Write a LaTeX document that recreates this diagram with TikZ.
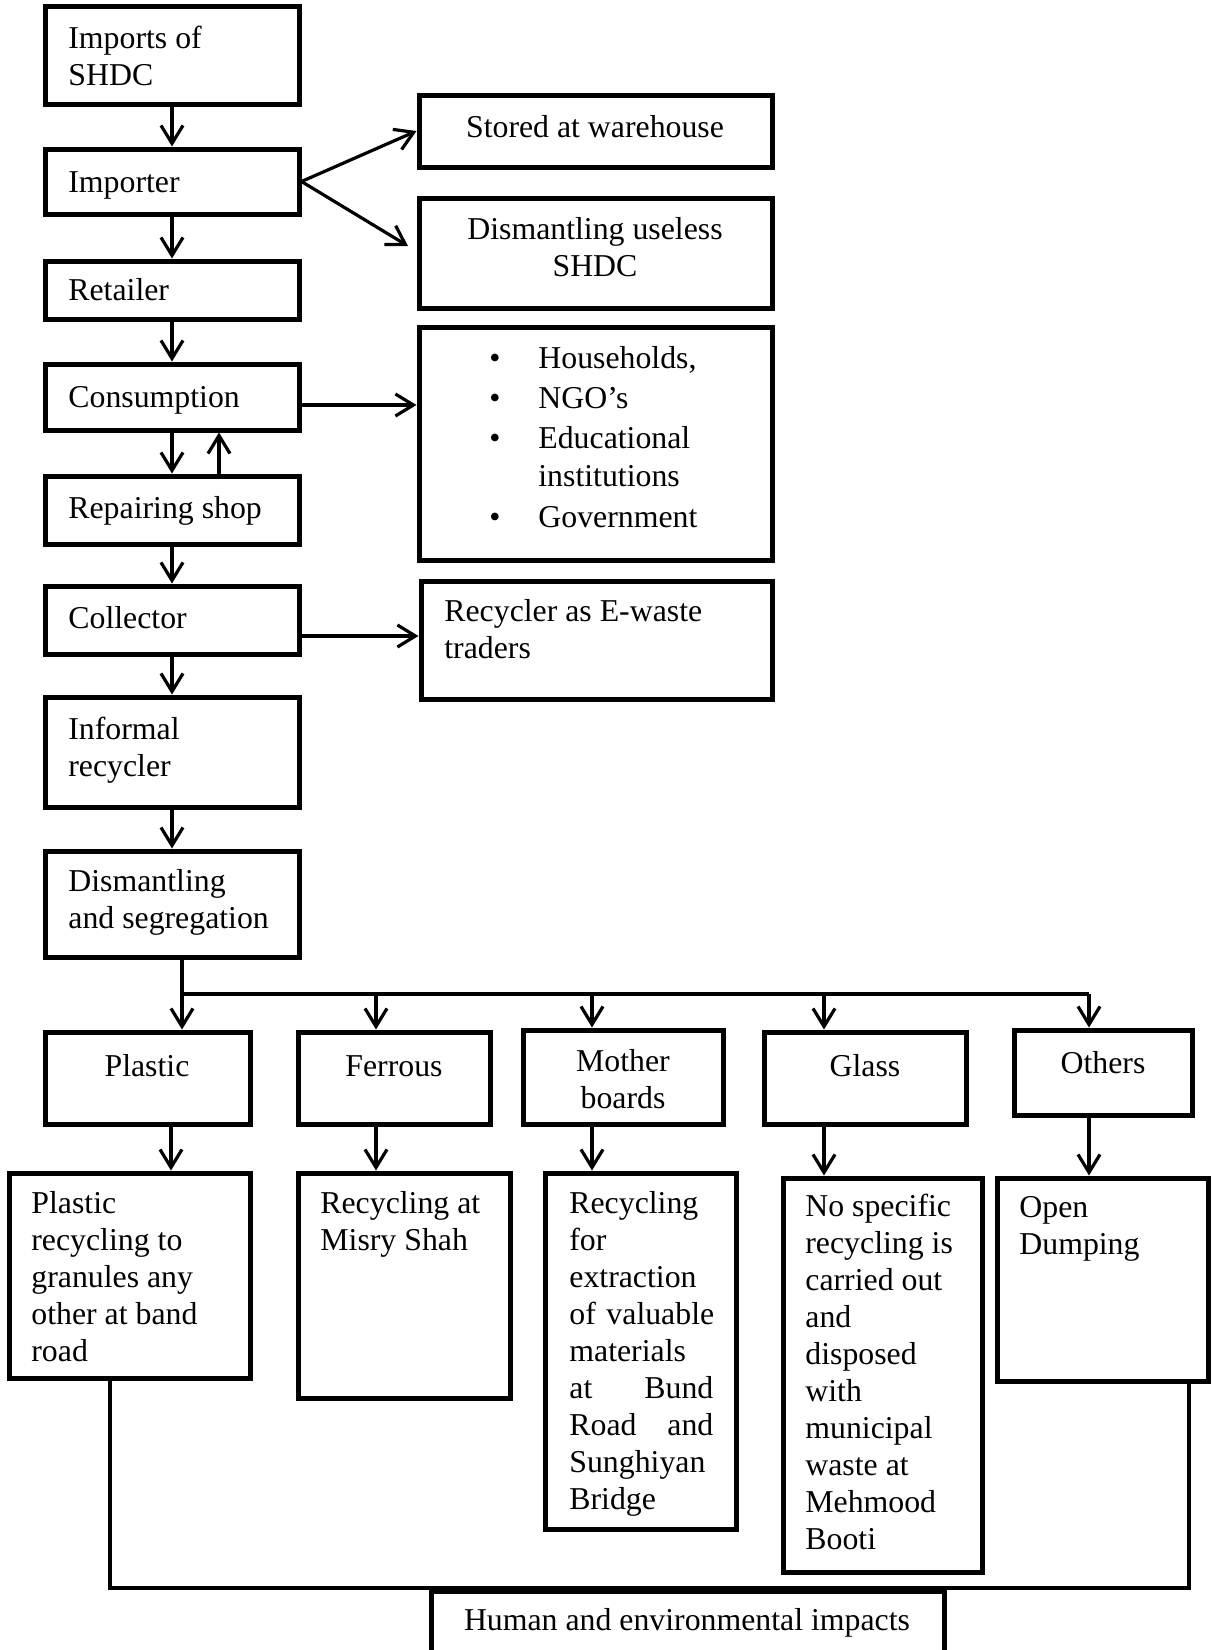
\documentclass[tikz,border=0pt]{standalone}
\usepackage{fontspec}
\setmainfont{Liberation Serif}
\usetikzlibrary{arrows.meta,calc}
\hyphenpenalty=10000
\exhyphenpenalty=10000
\newcommand\mkbox[5]{%
  \pgfmathsetmacro\mybw{(#4-#2)*0.5}%
  \pgfmathsetmacro\mybh{(#5-#3)*0.5}%
  \node[box, minimum width=\mybw pt, minimum height=\mybh pt] (#1) at ({(#2+#4)/2},{(#3+#5)/2}) {};}
\tikzset{
  box/.style={draw, rectangle, line width=2.5pt, inner sep=0pt},
  txt/.style={inner sep=0pt, font={\fontsize{15.9}{18.5}\selectfont}},
  arr/.style={line width=1.6pt, -{Straight Barb[length=9pt,width=11pt]}},
  ln/.style={line width=1.6pt},
}
\begin{document}
\begin{tikzpicture}[x=0.5pt,y=-0.5pt]
\useasboundingbox (0,0) rectangle (1211,1650);
\fill[white] (0,0) rectangle (1211,1650);
% left column
\mkbox{imp}{45}{6}{299}{104}
\mkbox{impr}{45}{149}{299}{214}
\mkbox{ret}{45}{261}{299}{319}
\mkbox{cons}{45}{364}{299}{430}
\mkbox{rep}{45}{476}{299}{544}
\mkbox{coll}{45}{586}{299}{654}
\mkbox{inf}{45}{697}{299}{807}
\mkbox{dis}{45}{851}{299}{957}
% right column
\mkbox{ware}{419}{95}{772}{167}
\mkbox{dus}{419}{198}{772}{308}
\mkbox{users}{419}{327}{772}{560}
\mkbox{trad}{421}{581}{772}{699}
% categories
\mkbox{pl}{45}{1032}{250}{1124}
\mkbox{fe}{298}{1032}{490}{1124}
\mkbox{mb}{523}{1030}{723}{1124}
\mkbox{gl}{764}{1032}{966}{1124}
\mkbox{ot}{1014}{1030}{1192}{1115}
% destinations
\mkbox{plr}{9}{1173}{250}{1378}
\mkbox{fer}{298}{1173}{510}{1398}
\mkbox{mbr}{545}{1173}{736}{1529}
\mkbox{glr}{783}{1178}{982}{1572}
\mkbox{otr}{997}{1178}{1208}{1381}
\mkbox{hum}{431}{1591}{944}{1668}

% texts (base anchor = baseline of the last line)
\node[txt, anchor=base west, align=left] (t-imp) at (68,85) {Imports of\\SHDC};
\node[txt, anchor=base west] (t-impr) at (68,192) {Importer};
\node[txt, anchor=base west] (t-ret) at (68,300) {Retailer};
\node[txt, anchor=base west] (t-cons) at (68,407) {Consumption};
\node[txt, anchor=base west] (t-rep) at (68,518) {Repairing shop};
\node[txt, anchor=base west] (t-coll) at (68,628) {Collector};
\node[txt, anchor=base west, align=left] (t-inf) at (68,776) {Informal\\recycler};
\node[txt, anchor=base west, align=left] (t-dis) at (68,928) {Dismantling\\and segregation};
\node[txt, anchor=base] (t-ware) at (595,137) {Stored at warehouse};
\node[txt, anchor=base, align=center] (t-dus) at (595,276) {Dismantling useless\\SHDC};
\node[txt, anchor=base west, align=left] (t-trad) at (444,658) {Recycler as E-waste\\traders};
\node[txt, anchor=base] (b1) at (495,368) {•};
\node[txt, anchor=base] (b2) at (495,408) {•};
\node[txt, anchor=base] (b3) at (495,448) {•};
\node[txt, anchor=base] (b4) at (495,527) {•};
\node[txt, anchor=base west, align=left] (t-users) at (538,527)
  {Households,\\[1.5pt]NGO’s\\[1.5pt]Educational\\[0.5pt]institutions\\[2pt]Government};
\node[txt, anchor=base] (t-pl) at (147,1076) {Plastic};
\node[txt, anchor=base] (t-fe) at (394,1076) {Ferrous};
\node[txt, anchor=base, align=center] (t-mb) at (623,1108) {Mother\\boards};
\node[txt, anchor=base] (t-gl) at (865,1076) {Glass};
\node[txt, anchor=base] (t-ot) at (1103,1073) {Others};
\node[txt, anchor=base west, align=left] (t-plr) at (31,1361)
  {Plastic\\recycling to\\granules any\\other at band\\road};
\node[txt, anchor=base west, align=left] (t-fer) at (320,1250) {Recycling at\\Misry Shah};
\node[txt, anchor=base west, align=left, text width=72pt] (t-mbr) at (569,1213)
  {Recycling\\for\\extraction\\\mbox{of valuable}\\materials\\at\hskip 0pt plus 1filll Bund\\Road\hskip 0pt plus 1filll and\\Sunghiyan\\Bridge};
\node[txt, anchor=base west, align=left] (t-glr) at (805,1549)
  {No specific\\recycling is\\carried out\\and\\disposed\\with\\municipal\\waste at\\Mehmood\\Booti};
\node[txt, anchor=base west, align=left] (t-otr) at (1019,1254) {Open\\Dumping};
\node[txt, anchor=base] (t-hum) at (687,1630) {Human and environmental impacts};

% connectors
\draw[arr] (imp.south) -- (impr.north);
\draw[arr] (impr.east) -- (ware.west);
\coordinate (dtip) at (408,246);
\draw[arr] (impr.east) -- (dtip);
\draw[arr] (impr.south) -- (ret.north);
\draw[arr] (ret.south) -- (cons.north);
\draw[arr] (cons.south) -- (rep.north);
\draw[arr] ($(rep.north)+(47,0)$) -- ($(cons.south)+(47,0)$);
\coordinate (c1) at ($(cons.east)+(0,8)$);
\draw[arr] (c1) -- (c1 -| users.west);
\draw[arr] (rep.south) -- (coll.north);
\coordinate (c2) at ($(coll.east)+(0,16)$);
\draw[arr] (c2) -- (c2 -| trad.west);
\draw[arr] (coll.south) -- (inf.north);
\draw[arr] (inf.south) -- (dis.north);
% split
\coordinate (s0) at ($(dis.south)+(10,0)$);
\coordinate (hl) at (182,994);
\coordinate (hr) at (1089,994);
\draw[ln] (s0) -- (hl) -- (hr);
\draw[arr] (hl) -- (pl.north -| hl);
\draw[arr] (hl -| 376,0) -- (fe.north -| 376,0);
\draw[arr] (hl -| 592,0) -- (mb.north -| 592,0);
\draw[arr] (hl -| 824,0) -- (gl.north -| 824,0);
\draw[arr] (hr) -- (ot.north -| hr);
% second level
\draw[arr] (pl.south -| 171,0) -- (plr.north -| 171,0);
\draw[arr] (fe.south -| 376,0) -- (fer.north -| 376,0);
\draw[arr] (mb.south -| 592,0) -- (mbr.north -| 592,0);
\draw[arr] (gl.south -| 824,0) -- (glr.north -| 824,0);
\draw[arr] (ot.south -| 1089,0) -- (otr.north -| 1089,0);
% bottom
\coordinate (bl) at (110,1588);
\coordinate (br) at (1189,1588);
\draw[ln] (plr.south -| bl) -- (bl) -- (br) -- (otr.south -| br);
\end{tikzpicture}
\end{document}
